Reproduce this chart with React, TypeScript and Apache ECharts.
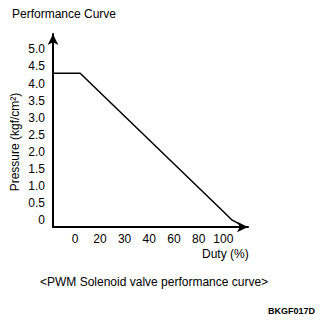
import React, { useEffect, useRef } from "react";
import * as echarts from "echarts";

// x positions are in tick-slot units (slot i carries dutyLabels[i])
const dutyLabels = ["0", "20", "30", "40", "60", "80", "100"];
const curveX = [-0.9, 0.2, 6.03, 6.36, 6.76];
const curveY = [4.3, 4.3, 0.23, 0.0, -0.15];
const pressureTicks = [0, 0.5, 1.0, 1.5, 2.0, 2.5, 3.0, 3.5, 4.0, 4.5, 5.0];

const FONT = "Liberation Sans, Arial, sans-serif";

export default function App() {
  const ref = useRef<HTMLDivElement>(null);
  useEffect(() => {
    if (!ref.current) return;
    const chart = echarts.init(ref.current, null, { renderer: "svg" });
    const data = curveX.map((x, i) => [x, curveY[i]]);
    chart.setOption({
      animation: false,
      backgroundColor: "#fff",
      grid: {
        left: 45,
        top: 26,
        width: 195,
        height: 193,
        containLabel: false,
        outerBoundsMode: "none",
      },
      xAxis: {
        type: "value",
        min: -0.9,
        max: 7.0,
        interval: 0.1,
        splitLine: { show: false },
        axisTick: { show: false },
        axisLine: {
          show: true,
          onZero: false,
          lineStyle: { color: "#000", width: 2 },
          symbol: ["none", "arrow"],
          symbolSize: [8, 11],
        },
        axisLabel: {
          margin: 6,
          color: "#000",
          fontFamily: FONT,
          fontSize: 12,
          formatter: (v: number) => {
            const r = Math.round(v * 10) / 10;
            if (Number.isInteger(r) && r >= 0 && r < dutyLabels.length) return dutyLabels[r];
            return "";
          },
        },
      },
      yAxis: {
        type: "value",
        min: -0.2,
        max: 5.45,
        interval: 0.1,
        splitLine: { show: false },
        axisTick: { show: false },
        axisLine: {
          show: true,
          onZero: false,
          lineStyle: { color: "#000", width: 2 },
          symbol: ["none", "arrow"],
          symbolSize: [8, 11],
        },
        axisLabel: {
          margin: 8,
          color: "#000",
          fontFamily: FONT,
          fontSize: 12,
          formatter: (v: number) => {
            const r = Math.round(v * 10) / 10;
            const hit = pressureTicks.find((t) => Math.abs(t - r) < 1e-6);
            if (hit === undefined) return "";
            return hit === 0 ? "0" : hit.toFixed(1);
          },
        },
      },
      series: [
        {
          type: "line",
          data,
          symbol: "none",
          clip: false,
          lineStyle: { color: "#000", width: 1.5 },
        },
      ],
      graphic: [
        {
          type: "text",
          left: 4,
          top: 0,
          style: { text: "Performance Curve", fill: "#000", font: `12px ${FONT}` },
        },
        {
          type: "text",
          x: 7,
          y: 134,
          rotation: Math.PI / 2,
          style: {
            text: "Pressure (kgf/cm²)",
            fill: "#000",
            font: `12px ${FONT}`,
            align: "center",
            verticalAlign: "middle",
          },
        },
        {
          type: "text",
          left: 194,
          top: 240,
          style: { text: "Duty (%)", fill: "#000", font: `12px ${FONT}` },
        },
        {
          type: "text",
          left: 32,
          top: 268,
          style: { text: "<PWM Solenoid valve performance curve>", fill: "#000", font: `12px ${FONT}` },
        },
        {
          type: "text",
          right: 18,
          top: 298,
          style: { text: "BKGF017D", fill: "#000", font: `bold 9px ${FONT}` },
        },
      ],
    });
    return () => chart.dispose();
  }, []);
  return <div ref={ref} style={{ width: 325, height: 313 }} />;
}
